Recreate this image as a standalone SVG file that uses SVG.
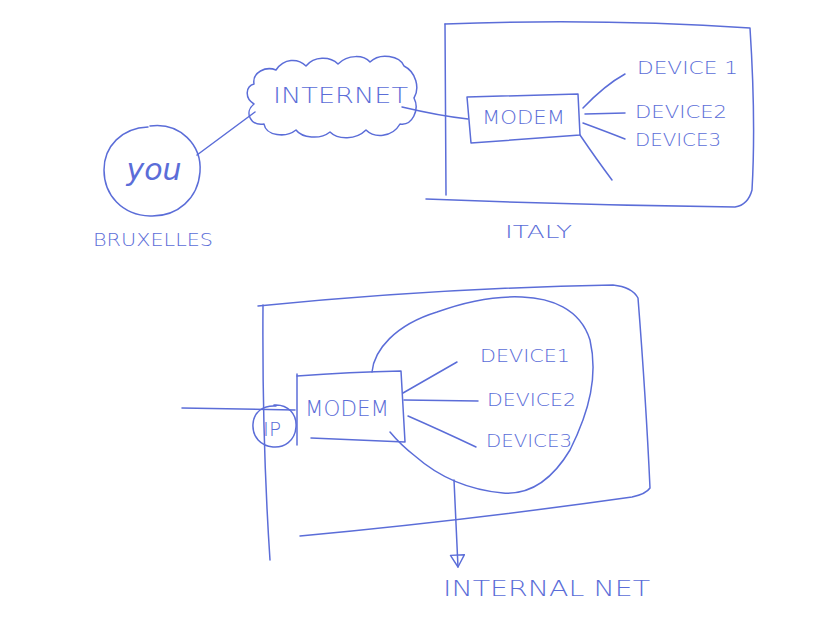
<svg xmlns="http://www.w3.org/2000/svg" width="816" height="618" viewBox="0 0 816 618">
<style>
.ln{fill:none;stroke:#5b6dd8;stroke-width:1.5;stroke-linecap:round;stroke-linejoin:round}
.tx{fill:#5b6dd8;font-family:"DejaVu Sans","Liberation Sans",sans-serif;font-weight:200}
</style>
<defs>
<marker id="arr" viewBox="0 0 16 16" refX="14" refY="8" markerWidth="16" markerHeight="16" markerUnits="userSpaceOnUse" orient="auto">
<path d="M2,1 L2,15 L14,8 Z" fill="none" stroke="#5b6dd8" stroke-width="1.4" stroke-linejoin="round"/>
</marker>
</defs>
<rect width="816" height="618" fill="#ffffff"/>

<g id="connectors">
<path class="ln" d="M197,155 L255,112"/>
<path class="ln" d="M402,107 Q440,116 468,119"/>
<path class="ln" d="M583,108 Q605,85 625,74"/>
<path class="ln" d="M585,114 L625,113"/>
<path class="ln" d="M583,123 Q610,133 625,139"/>
<path class="ln" d="M580,135 Q597,160 612,180"/>
<path class="ln" d="M182,408 L295,410"/>
<path class="ln" d="M403,393 L457,362"/>
<path class="ln" d="M404,400 L478,401"/>
<path class="ln" d="M408,416 Q440,430 476,447"/>
<path class="ln" d="M454,480 L458,567" marker-end="url(#arr)"/>
</g>

<g id="you">
<path class="ln" d="M150,126 C180,122 202,145 200,172 C198,198 178,217 150,216 C122,215 104,195 104,170 C104,146 122,128 148,127"/>
<text class="tx" x="154" y="180" font-size="30" font-style="italic" text-anchor="middle" font-family="'DejaVu Serif',serif">you</text>
</g>
<g id="bruxelles">
<text class="tx" x="93" y="246" font-size="17" textLength="120" lengthAdjust="spacingAndGlyphs">BRUXELLES</text>
</g>

<g id="internet">
<path class="ln" d="M254,84 C252,72 266,66 276,70 C284,58 298,58 306,66 C314,56 330,56 338,64 C348,54 364,55 370,62 C380,52 400,56 404,66 C416,72 420,88 414,98 C420,110 412,126 400,124 C392,138 374,138 366,130 C356,140 338,140 330,132 C320,140 302,138 296,130 C286,138 266,136 264,124 C250,126 244,112 254,104 C244,98 246,86 254,84 Z"/>
<text class="tx" x="273" y="103" font-size="22" textLength="135" lengthAdjust="spacingAndGlyphs">INTERNET</text>
</g>

<g id="italy">
<path class="ln" d="M445,24 Q600,18 750,28 Q756,120 752,190 Q748,205 735,207 Q580,205 426,199"/>
<path class="ln" d="M445,24 L446,195"/>
<text class="tx" x="505" y="238" font-size="17" textLength="67" lengthAdjust="spacingAndGlyphs">ITALY</text>
</g>

<g id="modem1">
<path class="ln" d="M467,97 L578,94 L580,135 L471,143 Z"/>
<text class="tx" x="482" y="124" font-size="20" textLength="83" lengthAdjust="spacingAndGlyphs">MODEM</text>
</g>
<g id="device1a"><text class="tx" x="637" y="74" font-size="17" textLength="101" lengthAdjust="spacingAndGlyphs">DEVICE 1</text></g>
<g id="device2a"><text class="tx" x="635" y="118" font-size="17" textLength="92" lengthAdjust="spacingAndGlyphs">DEVICE2</text></g>
<g id="device3a"><text class="tx" x="635" y="146" font-size="17" textLength="86" lengthAdjust="spacingAndGlyphs">DEVICE3</text></g>

<g id="house">
<path class="ln" d="M258,306 Q440,288 613,285 Q632,287 638,298 Q646,400 650,488 Q646,494 632,497 Q470,520 300,536"/>
<path class="ln" d="M263,305 Q262,440 270,560"/>
</g>

<g id="blob">
<path class="ln" d="M372,372 C374,350 395,325 437,312 C470,300 500,296 522,297 C550,298 580,308 590,340 C598,375 590,410 570,450 C552,480 530,495 503,493 C470,490 440,478 415,456 C402,446 395,438 390,432"/>
</g>

<g id="modem2">
<path class="ln" d="M297,376 Q350,372 401,371 L405,442 Q360,440 311,438"/>
<path class="ln" d="M297,374 L297,445"/>
<text class="tx" x="305" y="416" font-size="21" textLength="84" lengthAdjust="spacingAndGlyphs">MODEM</text>
</g>
<g id="ip">
<path class="ln" d="M274,405 C288,404 297,414 296,427 C295,441 284,448 273,447 C261,446 252,437 253,424 C254,411 264,405 276,406"/>
<text class="tx" x="272" y="436" font-size="20" text-anchor="middle">IP</text>
</g>
<g id="device1b"><text class="tx" x="480" y="362" font-size="17" textLength="90" lengthAdjust="spacingAndGlyphs">DEVICE1</text></g>
<g id="device2b"><text class="tx" x="487" y="406" font-size="17" textLength="89" lengthAdjust="spacingAndGlyphs">DEVICE2</text></g>
<g id="device3b"><text class="tx" x="486" y="447" font-size="17" textLength="86" lengthAdjust="spacingAndGlyphs">DEVICE3</text></g>

<g id="internalnet">
<text class="tx" x="443" y="596" font-size="22" textLength="207" lengthAdjust="spacingAndGlyphs">INTERNAL NET</text>
</g>
</svg>
